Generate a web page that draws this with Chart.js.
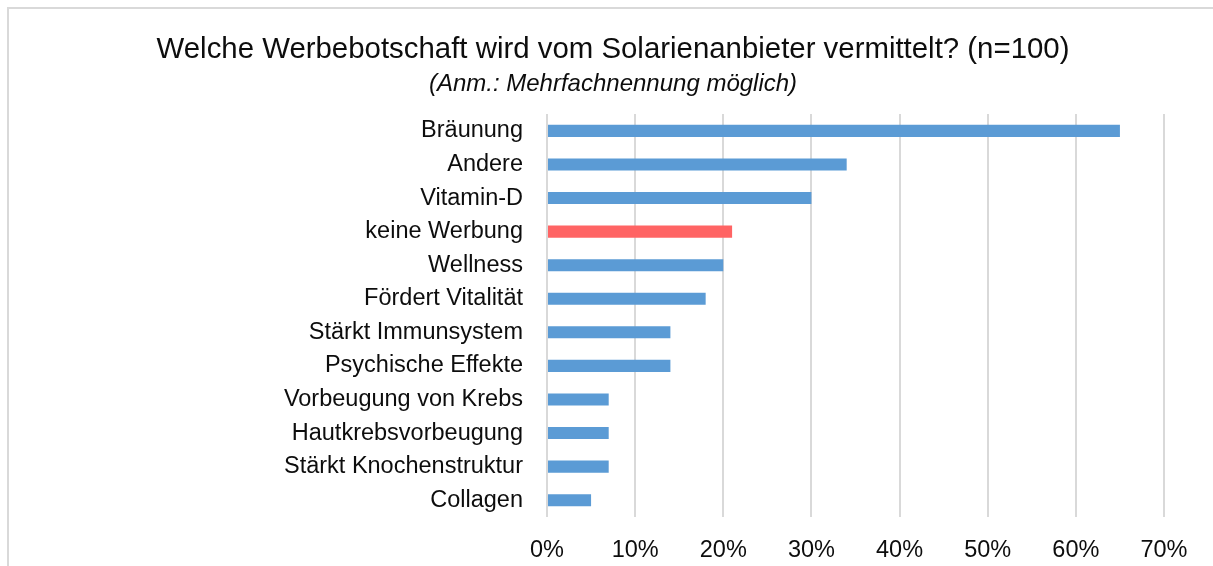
<!DOCTYPE html>
<html>
<head>
<meta charset="utf-8">
<script src="https://cdn.jsdelivr.net/npm/chart.js@4"></script>
<style>
  html, body { margin: 0; padding: 0; background: #fff; overflow: hidden; width: 1213px; height: 566px; }
  #frame { position: absolute; left: 7px; top: 7px; width: 1208px; height: 570px; border: 2px solid #d9d9d9; background: #fff; }
  #wrap { position: relative; width: 1208px; height: 560px; }
</style>
</head>
<body>
<div id="frame">
  <div id="wrap"><canvas id="myChart1"></canvas></div>
</div>
<script>
// Werbebotschaften der Solarienanbieter, Anteil in Prozent
const categories = [
  'Bräunung', 'Andere', 'Vitamin-D', 'keine Werbung', 'Wellness',
  'Fördert Vitalität', 'Stärkt Immunsystem', 'Psychische Effekte',
  'Vorbeugung von Krebs', 'Hautkrebsvorbeugung', 'Stärkt Knochenstruktur', 'Collagen'
];
const shares = [65, 34, 30, 21, 20, 18, 14, 14, 7, 7, 7, 5];
const highlighted = 'keine Werbung';
const xTicks = [0, 10, 20, 30, 40, 50, 60, 70];

const blue = '#5B9BD5';
const red = '#FF6464';
const textColor = '#0d0d0d';
const font = "'Liberation Sans', Arial, sans-serif";

const ctx = document.getElementById('myChart1').getContext('2d');
const chart = new Chart(ctx, {
  type: 'bar',
  data: {
    labels: categories,
    datasets: [{
      data: shares,
      backgroundColor: categories.map(c => c === highlighted ? red : blue),
      borderWidth: 0,
      categoryPercentage: 1,
      barPercentage: 0.36
    }]
  },
  options: {
    indexAxis: 'y',
    responsive: true,
    maintainAspectRatio: false,
    animation: false,
    // equal side padding keeps the title centred on the frame
    layout: { padding: { left: 53, right: 53, top: 0, bottom: 0 } },
    plugins: {
      legend: { display: false },
      tooltip: { enabled: false },
      title: {
        display: true,
        text: 'Welche Werbebotschaft wird vom Solarienanbieter vermittelt? (n=100)',
        color: textColor,
        font: { family: font, size: 29.4, weight: 'normal' },
        padding: { top: 23, bottom: 3 }
      },
      subtitle: {
        display: true,
        text: '(Anm.: Mehrfachnennung möglich)',
        color: textColor,
        font: { family: font, size: 24, style: 'italic' },
        padding: { top: 0, bottom: 15 }
      }
    },
    scales: {
      x: {
        min: 0,
        max: 70,
        afterBuildTicks: axis => { axis.ticks = xTicks.map(v => ({ value: v })); },
        afterFit: axis => { axis.height = 52; },
        grid: { color: '#d9d9d9', lineWidth: 2, drawTicks: false },
        border: { display: false },
        ticks: {
          padding: 19,
          color: textColor,
          font: { family: font, size: 23.5 },
          callback: v => v + '%'
        }
      },
      y: {
        afterFit: axis => { axis.width = 485; },
        grid: { display: false, drawTicks: false },
        border: { display: false },
        ticks: {
          padding: 24,
          color: textColor,
          font: { family: font, size: 23.5 }
        }
      }
    }
  }
});
</script>
</body>
</html>
